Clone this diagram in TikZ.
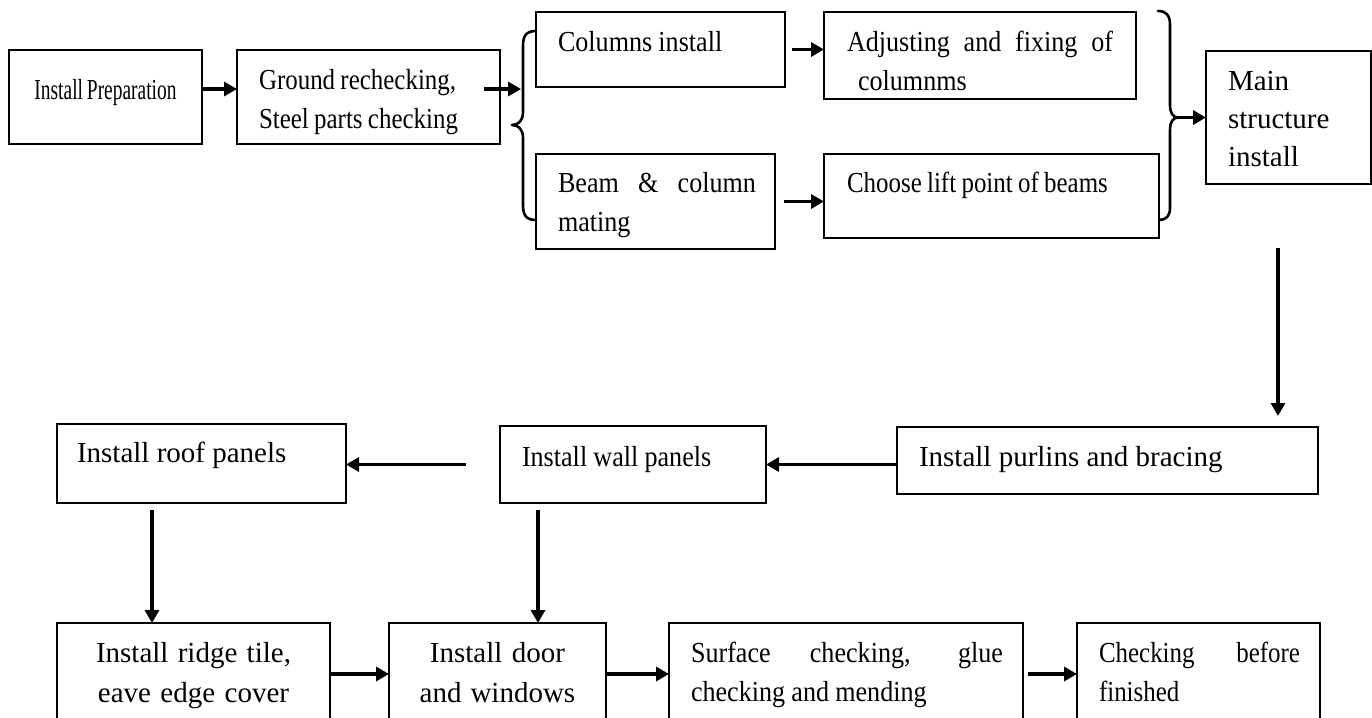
\documentclass[tikz,border=0pt]{standalone}
\usepackage{fontspec}
\usepackage{graphicx}
\setmainfont{Liberation Serif}
\newfontfamily\fxa[FakeStretch=0.67,WordSpace=0.8]{Liberation Serif}
\newfontfamily\fxb[FakeStretch=0.86,WordSpace=0.85]{Liberation Serif}
\newfontfamily\fxc[FakeStretch=0.9,WordSpace=0.95]{Liberation Serif}
\usetikzlibrary{arrows.meta}
\begin{document}
\begin{tikzpicture}[x=1pt,y=-1pt,
  bx/.style 2 args={draw, line width=1.3pt, anchor=north west, inner sep=0pt, outer sep=0pt, minimum width=#1pt, minimum height=#2pt},
  tx/.style={anchor=base west, inner sep=0pt, outer sep=0pt, align=left, font={\fontsize{29}{39}\selectfont#1},
    execute at begin node={\spaceskip=0pt\relax\xspaceskip=0pt\relax}},
  tx/.default=,
  arr/.style={line width=3.2pt, -{Triangle[length=13pt,width=14pt]}},
  brace/.style={line width=2.6pt, line cap=round, line join=round}]
\useasboundingbox (0,0) rectangle (1372,717);
\clip (0,0) rectangle (1372,717);
\fill[white] (0,0) rectangle (1372,717);

% boxes
\node[bx={193}{94}] (prep) at (9,50) {};
\node[bx={263}{94}] (ground) at (237,50) {};
\node[bx={249}{75}] (col) at (536,12) {};
\node[bx={312}{87}] (adj) at (824,12) {};
\node[bx={239}{95}] (beam) at (536,154) {};
\node[bx={335}{84}] (lift) at (824,154) {};
\node[bx={165}{133}] (main) at (1206,51) {};
\node[bx={421}{67}] (purl) at (897,427) {};
\node[bx={266}{77}] (wall) at (500,426) {};
\node[bx={289}{79}] (roof) at (57,424) {};
\node[bx={273}{140}] (ridge) at (57,623) {};
\node[bx={217}{140}] (door) at (389,623) {};
\node[bx={354}{140}] (surf) at (669,623) {};
\node[bx={243}{140}] (check) at (1077,623) {};

% texts
\node[tx=\fxa, anchor=base] (prept) at (105.5,99) {Install Preparation};
\node[tx=\fxb, text width=230pt] (groundt) at (259,89) {Ground rechecking,\\Steel parts checking};
\node[tx=\fxc] (colt) at (558,52) {Columns install};
\node[tx=\fxc, text width=266pt] (adjt) at (847,52) {\makebox[266pt][s]{Adjusting and fixing of}\\\hspace*{11pt}columnms};
\node[tx=\fxc, text width=198pt] (beamt) at (558,192) {\makebox[198pt][s]{Beam \& column}\\mating};
\node[tx=\fxb] (liftt) at (847,192) {Choose lift point of beams};
\node[tx, font={\fontsize{29}{38}\selectfont}, text width=130pt] (maint) at (1228,90) {Main\\structure\\install};
\node[tx] (purlt) at (919,466) {Install purlins and bracing};
\node[tx=\fxc] (wallt) at (522,466) {Install wall panels};
\node[tx] (rooft) at (77,462) {Install roof panels};
\node[tx, font={\fontsize{29}{40}\selectfont}, align=center, text width=260pt, anchor=base] (ridget) at (193.5,662) {Install ridge tile,\\eave edge cover};
\node[tx, font={\fontsize{29}{40}\selectfont}, align=center, text width=210pt, anchor=base] (doort) at (497.5,662) {Install door\\and windows};
\node[tx=\fxc, text width=312pt] (surft) at (691,662) {\makebox[312pt][s]{Surface checking, glue}\\checking and mending};
\node[tx=\fxb, text width=201pt] (checkt) at (1099,662) {\makebox[201pt][s]{Checking before}\\finished};

% braces
\coordinate (lbtop) at (536,31);
\coordinate (lbtip) at (512,125);
\coordinate (lbbot) at (536,220);
\coordinate (lbin) at (521,89);
\draw[brace] (lbtop) .. controls (526,31) and (523,36) .. (523,46) -- (523,112)
  .. controls (523,120) and (519,125) .. (lbtip)
  .. controls (519,125) and (523,130) .. (523,138) -- (523,205)
  .. controls (523,215) and (526,220) .. (lbbot);
\coordinate (rbtop) at (1158,11);
\coordinate (rbtip) at (1178,117.5);
\coordinate (rbbot) at (1159,220);
\draw[brace] (rbtop) .. controls (1166,11) and (1170,15) .. (1170,25) -- (1170,105)
  .. controls (1170,113) and (1173,117.5) .. (rbtip)
  .. controls (1173,117.5) and (1170,122) .. (1170,130) -- (1170,208)
  .. controls (1170,216) and (1166,220) .. (rbbot);

% connectors
\coordinate (gout) at (484,89);
\coordinate (mdown) at (1278,248);
\coordinate (pin) at (1278,416);
\coordinate (wout) at (466,464.5);
\coordinate (rdown) at (152,510);
\coordinate (wdown) at (538,510);
\draw[arr] ([yshift=8pt]prep.east) -- ([yshift=8pt]ground.west);
\draw[arr] (gout) -- (lbin);
\draw[arr] ([xshift=7pt]col.east) -- (col.east -| adj.west);
\draw[arr] ([xshift=9pt]beam.east) -- (beam.east -| lift.west);
\draw[arr] (rbtip) -- (main.west);
\draw[arr] (mdown) -- (pin);
\draw[arr] (purl.west |- wall.east) -- (wall.east);
\draw[arr] (wout) -- (wall.west -| roof.east);
\draw[arr] (rdown) -- (rdown |- ridge.north);
\draw[arr] (wdown) -- (wdown |- door.north);
\draw[arr] ([yshift=-51pt]ridge.north east) -- ([yshift=-51pt]door.north west);
\draw[arr] ([yshift=-51pt]door.north east) -- ([yshift=-51pt]surf.north west);
\draw[arr] ([xshift=5pt,yshift=-51pt]surf.north east) -- ([yshift=-51pt]check.north west);
\end{tikzpicture}
\end{document}
